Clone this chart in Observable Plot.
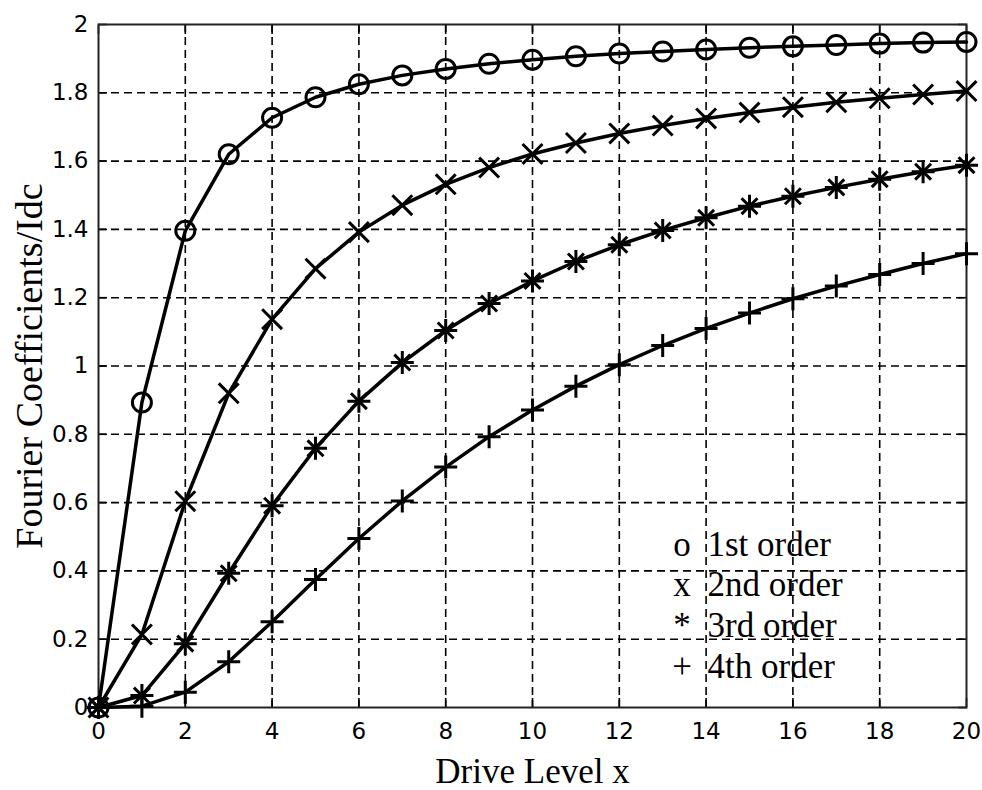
<!DOCTYPE html>
<html>
<head>
<meta charset="utf-8">
<script src="https://cdn.jsdelivr.net/npm/d3@7"></script>
<script src="https://cdn.jsdelivr.net/npm/@observablehq/plot@0.6"></script>
<style>
  html, body { margin: 0; padding: 0; background: #fff; }
  #chart { width: 982px; height: 790px; }
</style>
</head>
<body>
<div id="chart"></div>
<script>
// ---- data ----
const driveLevel = [0, 1, 2, 3, 4, 5, 6, 7, 8, 9, 10, 11, 12, 13, 14, 15, 16, 17, 18, 19, 20];
const firstOrder  = [0, 0.893, 1.396, 1.620, 1.727, 1.787, 1.825, 1.851, 1.870, 1.885, 1.897, 1.907, 1.915, 1.921, 1.927, 1.932, 1.936, 1.940, 1.944, 1.947, 1.949];
const secondOrder = [0, 0.214, 0.604, 0.920, 1.137, 1.285, 1.392, 1.471, 1.532, 1.581, 1.621, 1.653, 1.681, 1.704, 1.725, 1.742, 1.758, 1.772, 1.784, 1.795, 1.805];
const thirdOrder  = [0, 0.035, 0.187, 0.393, 0.591, 0.759, 0.897, 1.010, 1.104, 1.183, 1.249, 1.306, 1.355, 1.397, 1.434, 1.468, 1.497, 1.523, 1.547, 1.569, 1.588];
const fourthOrder = [0, 0.004, 0.045, 0.134, 0.251, 0.375, 0.495, 0.605, 0.704, 0.793, 0.871, 0.941, 1.004, 1.060, 1.110, 1.155, 1.197, 1.234, 1.268, 1.300, 1.329];

const xTicks = [0, 2, 4, 6, 8, 10, 12, 14, 16, 18, 20];
const yTicks = [0, 0.2, 0.4, 0.6, 0.8, 1, 1.2, 1.4, 1.6, 1.8, 2];
const legendSymbols = ["o", "x", "*", "+"];
const legendLabels = ["1st order", "2nd order", "3rd order", "4th order"];
const xTitle = "Drive Level x";
const yTitle = "Fourier Coefficients/Idc";

// ---- build ----
const rows = vals => driveLevel.map((x, i) => ({x, y: vals[i]}));
const serif = "'Liberation Serif', 'Times New Roman', serif";
const sans = "'DejaVu Sans', sans-serif";
const ink = "#000";

const gridStyle = {stroke: ink, strokeOpacity: 1, strokeWidth: 1.6, strokeDasharray: "8,5"};
const innerTick = {tickSize: 9, tickFormat: () => "", label: null, strokeWidth: 1.6, stroke: ink};

const legendMarks = [];
legendSymbols.forEach((s, i) => {
  const dy = 520 + i * 40.6;
  legendMarks.push(Plot.text([s], {frameAnchor: "top-left", dx: 583.5, dy, textAnchor: "middle", lineAnchor: "middle",
    fontFamily: serif, fontSize: 35, fill: ink}));
  legendMarks.push(Plot.text([legendLabels[i]], {frameAnchor: "top-left", dx: 609, dy, textAnchor: "start", lineAnchor: "middle",
    fontFamily: serif, fontSize: 35, fill: ink}));
});

const lineStyle = {x: "x", y: "y", stroke: ink, strokeWidth: 3.5};
const dotStyle = {x: "x", y: "y", stroke: ink, strokeWidth: 3, fill: "none"};

const chart = Plot.plot({
  width: 982,
  height: 790,
  marginLeft: 98,
  marginRight: 16,
  marginTop: 24,
  marginBottom: 83,
  style: {background: "#fff", color: ink, overflow: "visible"},
  x: {domain: [0, 20]},
  y: {domain: [0, 2]},
  marks: [
    Plot.gridX(xTicks.slice(1, -1), gridStyle),
    Plot.gridY(yTicks.slice(1, -1), gridStyle),
    Plot.axisX(xTicks, {anchor: "bottom", dy: -9, ...innerTick}),
    Plot.axisX(xTicks, {anchor: "top", dy: 9, ...innerTick}),
    Plot.axisY(yTicks, {anchor: "left", dx: 9, ...innerTick}),
    Plot.axisY(yTicks, {anchor: "right", dx: -9, ...innerTick}),
    Plot.axisX(xTicks, {anchor: "bottom", tickSize: 0, tickPadding: 15, tickFormat: d => String(d),
      label: null, fontSize: 23, fontFamily: sans, fill: ink}),
    Plot.axisY(yTicks, {anchor: "left", tickSize: 0, tickPadding: 10, tickFormat: d => String(+d.toFixed(1)),
      label: null, fontSize: 23, fontFamily: sans, fill: ink}),
    Plot.frame({stroke: "#222", strokeWidth: 2}),
    Plot.text([xTitle], {frameAnchor: "bottom", dy: 64, textAnchor: "middle", lineAnchor: "middle",
      fontFamily: serif, fontSize: 35, fill: ink}),
    Plot.text([yTitle], {frameAnchor: "left", rotate: -90, dx: -69, textAnchor: "middle", lineAnchor: "middle",
      fontFamily: serif, fontSize: 38, fill: ink}),
    ...legendMarks,
    // 1st order
    Plot.line(rows(firstOrder), lineStyle),
    Plot.dot(rows(firstOrder), {...dotStyle, symbol: "circle", r: 9.5}),
    // 2nd order
    Plot.line(rows(secondOrder), lineStyle),
    Plot.dot(rows(secondOrder), {...dotStyle, symbol: "times", r: 9.1}),
    // 3rd order (asterisk = plus + times)
    Plot.line(rows(thirdOrder), lineStyle),
    Plot.dot(rows(thirdOrder), {...dotStyle, symbol: "plus", r: 7.45}),
    Plot.dot(rows(thirdOrder), {...dotStyle, symbol: "times", r: 7.3}),
    // 4th order
    Plot.line(rows(fourthOrder), lineStyle),
    Plot.dot(rows(fourthOrder), {...dotStyle, symbol: "plus", r: 7.45})
  ]
});

document.getElementById("chart").appendChild(chart);
</script>
</body>
</html>
